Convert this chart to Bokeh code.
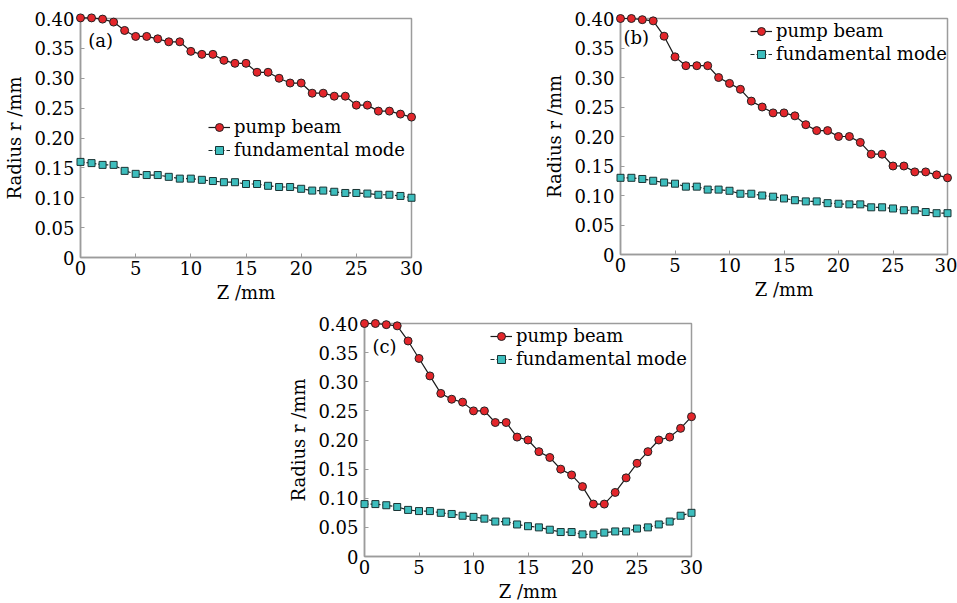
from bokeh.plotting import figure
from bokeh.layouts import column, row
from bokeh.models import Spacer, FixedTicker, Legend, LegendItem, Label
from bokeh.embed import file_html
from bokeh.resources import INLINE

z = list(range(31))

pump_a = [0.401, 0.401, 0.399, 0.394, 0.380, 0.370, 0.370, 0.366, 0.361, 0.361,
          0.345, 0.340, 0.340, 0.330, 0.325, 0.325, 0.310, 0.310, 0.300, 0.292,
          0.292, 0.275, 0.275, 0.270, 0.270, 0.255, 0.255, 0.245, 0.245, 0.240, 0.235]
fund_a = [0.160, 0.158, 0.155, 0.155, 0.145, 0.140, 0.138, 0.138, 0.135, 0.132,
          0.132, 0.130, 0.128, 0.126, 0.126, 0.123, 0.123, 0.120, 0.118, 0.118,
          0.115, 0.112, 0.112, 0.110, 0.108, 0.108, 0.107, 0.105, 0.105, 0.103, 0.100]

pump_b = [0.400, 0.400, 0.398, 0.396, 0.370, 0.335, 0.320, 0.320, 0.320, 0.300,
          0.290, 0.280, 0.260, 0.250, 0.240, 0.240, 0.235, 0.220, 0.210, 0.210,
          0.200, 0.200, 0.190, 0.170, 0.170, 0.150, 0.150, 0.140, 0.140, 0.135, 0.130]
fund_b = [0.130, 0.130, 0.128, 0.125, 0.122, 0.120, 0.115, 0.115, 0.110, 0.110,
          0.108, 0.103, 0.103, 0.100, 0.098, 0.095, 0.092, 0.090, 0.090, 0.087,
          0.086, 0.085, 0.085, 0.080, 0.080, 0.078, 0.075, 0.075, 0.072, 0.070, 0.070]

pump_c = [0.400, 0.400, 0.398, 0.396, 0.370, 0.340, 0.310, 0.280, 0.270, 0.265,
          0.250, 0.250, 0.230, 0.230, 0.205, 0.200, 0.180, 0.170, 0.150, 0.140,
          0.120, 0.090, 0.090, 0.110, 0.135, 0.160, 0.180, 0.200, 0.205, 0.220, 0.240]
fund_c = [0.090, 0.090, 0.088, 0.085, 0.080, 0.078, 0.078, 0.075, 0.073, 0.070,
          0.068, 0.065, 0.060, 0.060, 0.055, 0.052, 0.050, 0.046, 0.042, 0.042,
          0.038, 0.038, 0.041, 0.043, 0.043, 0.048, 0.050, 0.055, 0.060, 0.070, 0.075]

x_ticks = [0, 5, 10, 15, 20, 25, 30]
y_ticks = [0, 0.05, 0.10, 0.15, 0.20, 0.25, 0.30, 0.35, 0.40]
y_tick_labels = ["0", "0.05", "0.10", "0.15", "0.20", "0.25", "0.30", "0.35", "0.40"]
panel_tags = ["(a)", "(b)", "(c)"]
series_names = ["pump beam", "fundamental mode"]

FONT = "DejaVu Serif"
FS = "18px"
GRAY = "#9c9c9c"
RED = "#e3262b"
CYAN = "#3dbdbd"


def make_panel(pump, fund, tag, tag_xy, legend_loc, frame_w, frame_h,
               bl, br, bt, bb):
    p = figure(frame_width=frame_w, frame_height=frame_h,
               x_range=(0, 30), y_range=(0, 0.40),
               min_border_left=bl, min_border_right=br,
               min_border_top=bt, min_border_bottom=bb,
               output_backend="svg", toolbar_location=None)
    p.xgrid.visible = False
    p.ygrid.visible = False
    p.outline_line_color = GRAY
    p.outline_line_width = 1.5
    p.background_fill_color = "white"
    p.border_fill_color = "white"

    for ax in (p.xaxis[0], p.yaxis[0]):
        ax.axis_line_color = GRAY
        ax.axis_line_width = 1.5
        ax.major_tick_in = 4
        ax.major_tick_out = 0
        ax.major_tick_line_color = GRAY
        ax.minor_tick_line_color = None
        ax.major_label_text_font = FONT
        ax.major_label_text_font_size = FS
        ax.major_label_text_color = "black"
        ax.axis_label_text_font = FONT
        ax.axis_label_text_font_size = FS
        ax.axis_label_text_font_style = "normal"
        ax.axis_label_text_color = "black"
    p.xaxis.major_label_standoff = 3
    p.xaxis.axis_label_standoff = 4
    p.yaxis.major_label_standoff = 6
    p.yaxis.axis_label_standoff = 6

    p.xaxis.ticker = FixedTicker(ticks=x_ticks)
    p.yaxis.ticker = FixedTicker(ticks=y_ticks)
    p.yaxis.major_label_overrides = {t: s for t, s in zip(y_ticks, y_tick_labels)}
    p.xaxis.axis_label = "Z /mm"
    p.yaxis.axis_label = "Radius r /mm"

    l1 = p.line(z, pump, line_color="#1a1a1a", line_width=1.2, level="overlay")
    s1 = p.scatter(z, pump, marker="circle", size=8, fill_color=RED,
                   line_color="#222222", line_width=1, level="overlay")
    l2 = p.line(z, fund, line_color="#1a2a2a", line_width=1.2,
                line_dash="4 2", level="overlay")
    s2 = p.scatter(z, fund, marker="square", size=7, fill_color=CYAN,
                   line_color="#1a3333", line_width=1, level="overlay")

    legend = Legend(items=[LegendItem(label=series_names[0], renderers=[l1, s1]),
                           LegendItem(label=series_names[1], renderers=[l2, s2])],
                    location=legend_loc, margin=0, padding=0, spacing=2,
                    glyph_width=22, glyph_height=20, label_height=20,
                    label_standoff=4,
                    label_text_font=FONT, label_text_font_size=FS,
                    label_text_color="black",
                    border_line_alpha=0, background_fill_alpha=0)
    p.add_layout(legend, "center")

    p.add_layout(Label(x=tag_xy[0], y=tag_xy[1], text=tag,
                       text_font=FONT, text_font_size=FS,
                       text_baseline="middle", text_align="left",
                       text_color="black"))
    return p


pa = make_panel(pump_a, fund_a, panel_tags[0], (0.7, 0.363), (128, 97),
                331, 239, 80, 129, 13, 61)
pb = make_panel(pump_b, fund_b, panel_tags[1], (0.27, 0.368), (130, 190),
                327, 236, 80, 10, 18, 59)
pc = make_panel(pump_c, fund_c, panel_tags[2], (0.73, 0.361), (126, 187),
                327, 233, 80, 30, 10, 47)

layout = column(row(pa, pb, spacing=0),
                row(Spacer(width=284, height=10), pc, spacing=0),
                spacing=0)

open("out.html", "w").write(file_html(layout, INLINE))
